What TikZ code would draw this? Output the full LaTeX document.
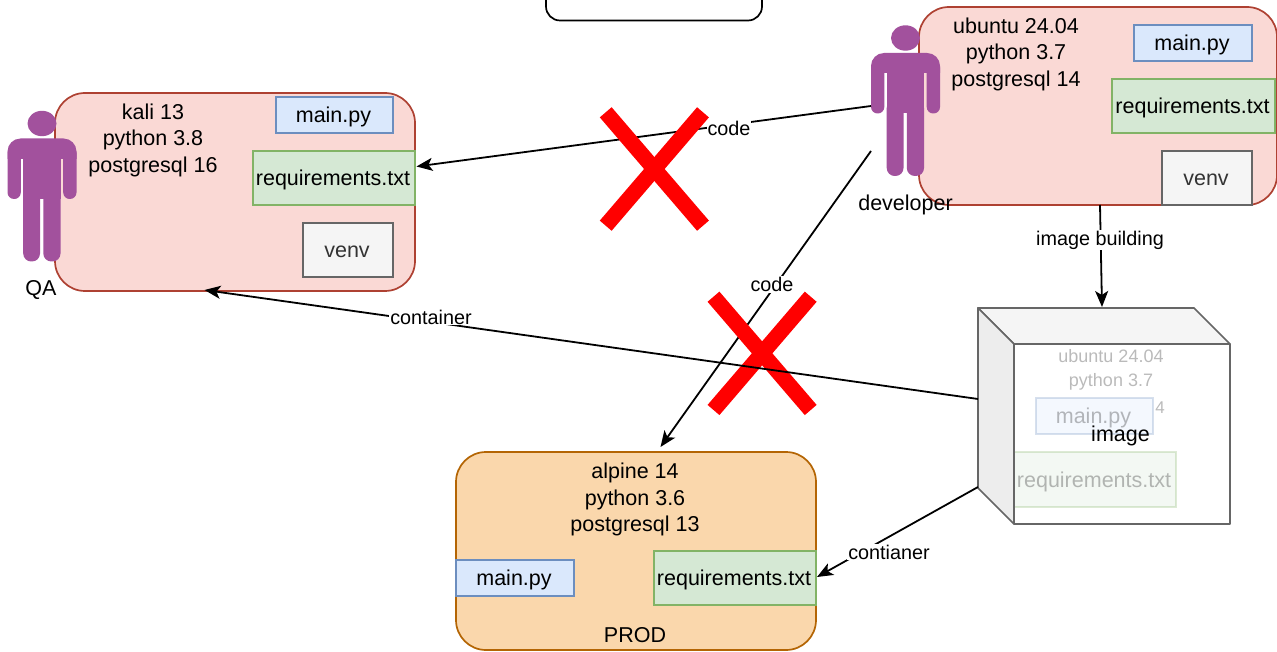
\documentclass[tikz,border=0pt]{standalone}
\usepackage{fontspec}
\setmainfont{Liberation Sans}
\usetikzlibrary{arrows.meta,calc}
\definecolor{redFill}{HTML}{FAD9D5}
\definecolor{redLine}{HTML}{AE4132}
\definecolor{blueFill}{HTML}{DAE8FC}
\definecolor{blueLine}{HTML}{6C8EBF}
\definecolor{greenFill}{HTML}{D5E8D4}
\definecolor{greenLine}{HTML}{82B366}
\definecolor{greyFill}{HTML}{F5F5F5}
\definecolor{greyLine}{HTML}{666666}
\definecolor{orangeFill}{HTML}{FAD7AC}
\definecolor{orangeLine}{HTML}{B46504}
\definecolor{sideFill}{HTML}{EDEDED}
\definecolor{personFill}{HTML}{A2519D}
\newcommand{\rbox}[7]{\node[#1,text height=15pt,text depth=0pt,minimum width={(#4-#2)*1pt},minimum height={(#5-#3)*1pt}] (#6) at ({(#2+#4)/2},{(#3+#5)/2}) {\kern-2pt #7};}
\newcommand{\personshape}[2]{%
  \begin{scope}[shift={(#1,#2)}]
    \fill[personFill] (34.5,13) ellipse [x radius=14.5pt,y radius=12.7pt];
    \begin{scope}
      \clip (0,28) rectangle (69,48);
      \fill[personFill,rounded corners=13pt] (0,28) rectangle (69,75);
    \end{scope}
    \fill[personFill,rounded corners=6.5pt] (0,36) rectangle (13.3,88.5);
    \fill[personFill,rounded corners=6.5pt] (55.7,36) rectangle (69,88.5);
    \fill[personFill] (15.7,40) rectangle (53,88.5);
    \fill[personFill,rounded corners=8pt] (15.7,75) rectangle (32.5,151);
    \fill[personFill,rounded corners=8pt] (35.8,75) rectangle (53,151);
  \end{scope}}
\tikzset{
  every node/.style={font=\fontsize{21.5}{26.5}\selectfont,inner sep=0pt,outer sep=0pt,align=center},
  bigbox/.style={draw=redLine,fill=redFill,line width=1.7pt,rectangle,rounded corners=30pt},
  prodbox/.style={draw=orangeLine,fill=orangeFill,line width=1.7pt,rectangle,rounded corners=30pt},
  pybox/.style={draw=blueLine,fill=blueFill,line width=1.7pt,rectangle},
  reqbox/.style={draw=greenLine,fill=greenFill,line width=1.7pt,rectangle},
  venvbox/.style={draw=greyLine,fill=greyFill,line width=1.7pt,rectangle,text=black!80},
  conn/.style={draw=black,line width=1.8pt,-{Stealth[length=16pt,width=13pt,inset=4pt]}},
  lbl/.style={fill=white,inner sep=1pt,font=\fontsize{19.8}{23}\selectfont},
  crossbar/.style={draw=red,line width=15.6pt},
  cubeface/.style={draw=greyLine,line width=1.7pt,line join=round},
  ghost/.style={opacity=0.27},
}
\begin{document}
\begin{tikzpicture}[x=1pt,y=-1pt]
\useasboundingbox (0,0) rectangle (1277,652);
\fill[white] (0,0) rectangle (1277,652);
% partly visible box at the top
\begin{scope}
  \clip (500,0) rectangle (800,30);
  \rbox{draw=black,line width=1.7pt,rectangle,rounded corners=14pt}{546}{-30}{762}{20.5}{topbox}{}
\end{scope}
% QA environment
\rbox{bigbox}{55}{93}{415}{291}{qaBox}{}
\rbox{pybox}{276}{97}{393}{133}{qaMain}{main.py}
\rbox{reqbox}{253}{151}{415}{205}{qaReq}{requirements.txt}
\rbox{venvbox}{303}{223}{393}{277}{qaVenv}{venv}
\node (qaInfo) at (153,140) {kali 13\\python 3.8\\postgresql 16};
\personshape{7.5}{110.5}
\node (qaName) at (41,290) {QA};
% developer environment
\rbox{bigbox}{919}{7}{1277}{205}{devBox}{}
\rbox{pybox}{1134}{25}{1252}{61}{devMain}{main.py}
\rbox{reqbox}{1112}{79}{1275}{133}{devReq}{requirements.txt}
\rbox{venvbox}{1162}{151}{1252}{205}{devVenv}{venv}
\node (devInfo) at (1016,54) {ubuntu 24.04\\python 3.7\\postgresql 14};
\personshape{871}{25}
\rbox{rectangle}{871}{25}{940}{176}{dev}{}
\node (devName) at (905.5,205) {developer};
% PROD environment
\rbox{prodbox}{456}{452}{816}{650}{prodBox}{}
\rbox{pybox}{456}{560}{574}{596}{prodMain}{main.py}
\rbox{reqbox}{654}{551}{816}{605}{prodReq}{requirements.txt}
\node (prodInfo) at (635,499.5) {alpine 14\\python 3.6\\postgresql 13};
\node (prodName) at (635,635) {PROD};
% image cube
\rbox{rectangle}{978}{308}{1230}{524}{cube}{}
\filldraw[cubeface,fill=greyFill] (978,308) -- (1194,308) -- (1230,344) -- (1014,344) -- cycle;
\filldraw[cubeface,fill=sideFill] (978,308) -- (1014,344) -- (1014,524) -- (978,488) -- cycle;
\fill[white] (1014,344) rectangle (1230,524);
\begin{scope}[ghost]
  \node (imgOs) at (1111,356) {\fontsize{18}{22}\selectfont ubuntu 24.04};
  \node (imgPy) at (1111,382) {\fontsize{18}{22}\selectfont python 3.7};
  \node (imgPg) at (1160,408) {\fontsize{17}{20}\selectfont 4};
  \rbox{pybox}{1036}{398}{1153}{434}{imgMain}{main.py}
  \rbox{reqbox}{1014}{452}{1176}{507}{imgReq}{requirements.txt}
\end{scope}
\draw[cubeface] (1014,344) rectangle (1230,524);
\node (imgName) at (1120.5,436) {image};
% connectors and crosses
\draw[conn] ($(dev.west)+(0,5.5)$) -- ($(qaReq.east)+(1.5,-11.5)$);
\node[lbl] (codeA) at (729,128) {code};
\draw[crossbar] (605.7,112.3) -- (703,225.7);
\draw[crossbar] (703,112.3) -- (605.7,225.7);
\draw[conn] ($(dev.west)+(0,50.5)$) -- ($(prodBox.north)+(24.5,-5)$);
\node[lbl] (codeB) at (772,284.5) {code};
\draw[crossbar] (713.5,296.7) -- (810.7,410);
\draw[crossbar] (810.7,296.7) -- (713.5,410);
\draw[conn] ($(cube.west)+(0,-17)$) -- ($(qaBox.south)+(-30.5,-1)$);
\node[lbl] (contA) at (431,317) {container};
\draw[conn] ($(devBox.south)+(2,0)$) -- ($(cube.north)+(-2,-1)$);
\node[lbl] (build) at (1100,240) {image building};
\draw[conn] ($(cube.west)+(0,71)$) -- ($(prodReq.east)+(1,-1)$);
\node[lbl] (contB) at (889,552) {contianer};
\end{tikzpicture}
\end{document}
